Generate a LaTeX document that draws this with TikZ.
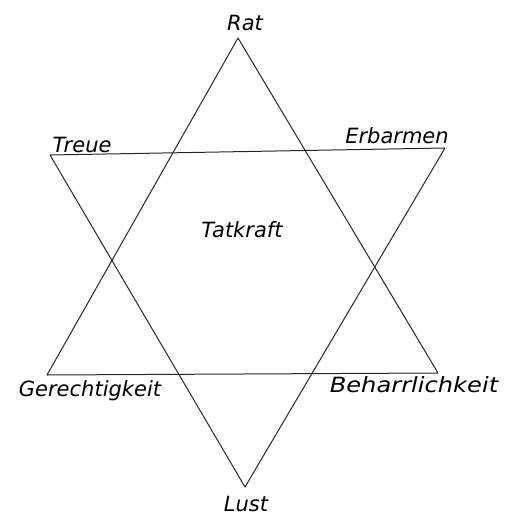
\documentclass[tikz,border=0pt]{standalone}
\usepackage{fontspec}
\setmainfont{DejaVu Sans}
\usetikzlibrary{positioning}

\begin{document}
\begin{tikzpicture}[
  x=1pt, y=-1pt,
  edge/.style={draw=black!85, line width=1pt, line join=round},
  lab/.style={font=\itshape\fontsize{21}{23}\selectfont, inner sep=1pt}
]
\useasboundingbox (0,0) rectangle (515,516);
% corners of the two triangles
\coordinate (rat) at (238,38);
\coordinate (gerecht) at (47,375);
\coordinate (beharr) at (438,373);
\coordinate (treue) at (50,155);
\coordinate (erbarmen) at (445,148);
\coordinate (lust) at (245,487);
% the triangles
\draw[edge] (rat) -- (gerecht) -- (beharr) -- cycle;
\draw[edge] (treue) -- (erbarmen) -- (lust) -- cycle;
% labels
\node[lab] (ratlab) at (245,23) {Rat};
\node[lab] (treuelab) at (82,145) {Treue};
\node[lab] (erbarmenlab) at (397,136) {Erbarmen};
\node[lab] (tatkraft) at (242,230) {Tatkraft};
\node[lab] (gerechtlab) at (90,391) {Gerechtigkeit};
\node[lab, xscale=1.15] (beharrlab) at (414,385) {Beharrlichkeit};
\node[lab] (lustlab) at (246,504) {Lust};
\end{tikzpicture}
\end{document}
